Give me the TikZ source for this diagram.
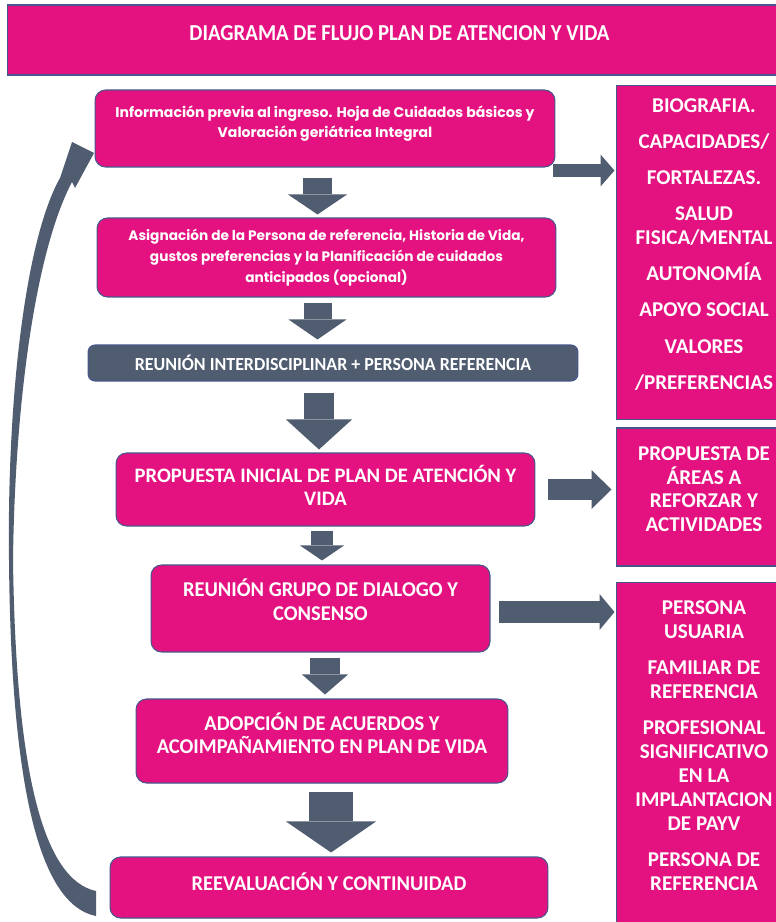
\documentclass[tikz,border=0pt]{standalone}
\usepackage{fontspec}
\setmainfont{Carlito}
\newfontfamily\gothicfont{Poppins}
\newfontfamily\narrowfont{Carlito}[FakeStretch=0.97]
\newfontfamily\titlefont{Carlito}[FakeStretch=0.91]
\usetikzlibrary{arrows.meta}
\usetikzlibrary{positioning}

\definecolor{fucsia}{RGB}{228,18,128}
\definecolor{pizarra}{RGB}{80,93,113}
\definecolor{borde}{RGB}{70,86,140}

\begin{document}
\begin{tikzpicture}[x=0.02cm, y=-0.02cm,
    caja/.style={draw=borde, line width=0.6pt, fill=fucsia, text=white, align=center, inner sep=0pt, rounded corners=6pt},
    lista/.style={caja, rounded corners=0pt, minimum width=3.52cm, font={\fontsize{12}{13.6}\selectfont\bfseries}},
    bloque/.style n args={3}{pizarra, line width=#1, -{Triangle[width=#2, length=#3, line width=0pt]}}]
  \useasboundingbox (0,0) rectangle (776,922);
  \fill[white] (0,0) rectangle (776,922);
  \node[caja, rounded corners=0pt, minimum width=15.7cm, minimum height=1.4cm, text depth=8pt, font={\titlefont\bfseries\fontsize{13}{15}\selectfont}] (titulo) at (399.5,40) {DIAGRAMA DE FLUJO PLAN DE ATENCION Y VIDA};
  \node[caja, minimum width=9.2cm, minimum height=1.54cm, text depth=8pt, font={\gothicfont\bfseries\fontsize{8}{11.3}\selectfont}] (ingreso) at (325,128.5) {Información previa al ingreso. Hoja de Cuidados básicos y\\Valoración geriátrica Integral};
  \node[caja, minimum width=9.18cm, minimum height=1.58cm, font={\gothicfont\bfseries\fontsize{7.8}{11.8}\selectfont}] (asigna) at (326.5,257.5) {Asignación de la Persona de referencia, Historia de Vida,\\gustos preferencias y la Planificación de cuidados\\anticipados (opcional)};
  \node[caja, draw=borde, fill=pizarra, rounded corners=4pt, minimum width=9.8cm, minimum height=0.72cm, font={\narrowfont\bfseries\fontsize{10.5}{13}\selectfont}] (reunion) at (333,363) {REUNIÓN INTERDISCIPLINAR + PERSONA REFERENCIA};
  \node[caja, minimum width=8.38cm, minimum height=1.46cm, text depth=5pt, font={\bfseries\fontsize{11.7}{13.2}\selectfont}] (propuesta) at (325.5,489.5) {PROPUESTA INICIAL DE PLAN DE ATENCIÓN Y\\VIDA};
  \node[caja, minimum width=6.78cm, minimum height=1.74cm, text depth=10.5pt, font={\narrowfont\bfseries\fontsize{12}{13.6}\selectfont}] (grupo) at (320.5,608.5) {REUNIÓN GRUPO DE DIALOGO Y\\CONSENSO};
  \node[caja, minimum width=7.44cm, minimum height=1.68cm, text depth=9pt, font={\narrowfont\bfseries\fontsize{12}{13.6}\selectfont}] (acuerdos) at (322,741) {ADOPCIÓN DE ACUERDOS Y\\ACOIMPAÑAMIENTO EN PLAN DE VIDA};
  \node[caja, minimum width=8.76cm, minimum height=1.22cm, text depth=7pt, font={\narrowfont\bfseries\fontsize{12}{13.6}\selectfont}] (reeval) at (329,887.5) {REEVALUACIÓN Y CONTINUIDAD};
  \node[lista, minimum height=6.7cm, text depth=10pt] (bio) at (704,252.5) {BIOGRAFIA.\\[7pt]CAPACIDADES/\\[7pt]FORTALEZAS.\\[7pt]SALUD\\FISICA/MENTAL\\[7pt]AUTONOMÍA\\[7pt]APOYO SOCIAL\\[7pt]VALORES\\[7pt]/PREFERENCIAS};
  \node[lista, minimum height=2.76cm, text depth=9pt] (areas) at (704,497) {PROPUESTA DE\\ÁREAS A\\REFORZAR Y\\ACTIVIDADES};
  \node[lista, minimum height=6.96cm, text depth=12pt] (personas) at (704,756) {PERSONA\\USUARIA\\[7pt]FAMILIAR DE\\REFERENCIA\\[7pt]PROFESIONAL\\SIGNIFICATIVO\\EN LA\\IMPLANTACION\\DE PAYV\\[7pt]PERSONA DE\\REFERENCIA};

  \draw[bloque={0.58cm}{1.18cm}{0.4cm}, shorten <=0.2cm, shorten >=0.06cm] ([xshift=-0.15cm]ingreso.south) -- ([xshift=-0.15cm]ingreso.south |- asigna.north);
  \draw[bloque={0.56cm}{1.16cm}{0.4cm}, shorten <=0.1cm, shorten >=0.1cm] ([xshift=-0.18cm]asigna.south) -- ([xshift=-0.18cm]asigna.south |- reunion.north);
  \draw[bloque={0.6cm}{1.32cm}{0.6cm}, shorten <=0.22cm, shorten >=0.06cm] ([xshift=-0.28cm]reunion.south) -- ([xshift=-0.28cm]reunion.south |- propuesta.north);
  \draw[bloque={0.44cm}{0.88cm}{0.3cm}, shorten <=0.08cm, shorten >=0.08cm] ([xshift=-0.07cm]propuesta.south) -- ([xshift=-0.07cm]propuesta.south |- grupo.north);
  \draw[bloque={0.6cm}{0.92cm}{0.4cm}, shorten <=0.1cm, shorten >=0.08cm] ([xshift=0.09cm]grupo.south) -- ([xshift=0.09cm]grupo.south |- acuerdos.north);
  \draw[bloque={0.88cm}{1.8cm}{0.62cm}, shorten <=0.16cm, shorten >=0.08cm] ([xshift=0.18cm]acuerdos.south) -- ([xshift=0.18cm]acuerdos.south |- reeval.north);

  \coordinate (sal1) at ([xshift=-0.04cm, yshift=-0.06cm]ingreso.south east);
  \coordinate (sal3) at ([yshift=-0.07cm]grupo.east);
  \draw[bloque={0.26cm}{0.64cm}{0.28cm}, shorten >=0.02cm] (sal1) -- (sal1 -| bio.west);
  \draw[bloque={0.42cm}{0.78cm}{0.4cm}, shorten <=0.26cm, shorten >=0.08cm] (propuesta.east) -- (areas.west |- propuesta.east);
  \draw[bloque={0.44cm}{0.72cm}{0.3cm}, shorten <=0.18cm, shorten >=0.02cm] (sal3) -- (sal3 -| personas.west);

  \fill[pizarra] (96,916) .. controls (40,905) and (11,790) .. (9,560)
    .. controls (7,400) and (25,240) .. (60,178)
    -- (72,142) -- (94,153) -- (75,188) -- (72,182)
    .. controls (36,250) and (15,400) .. (13,560)
    .. controls (16,780) and (45,880) .. (96,891) -- cycle;
\end{tikzpicture}
\end{document}
